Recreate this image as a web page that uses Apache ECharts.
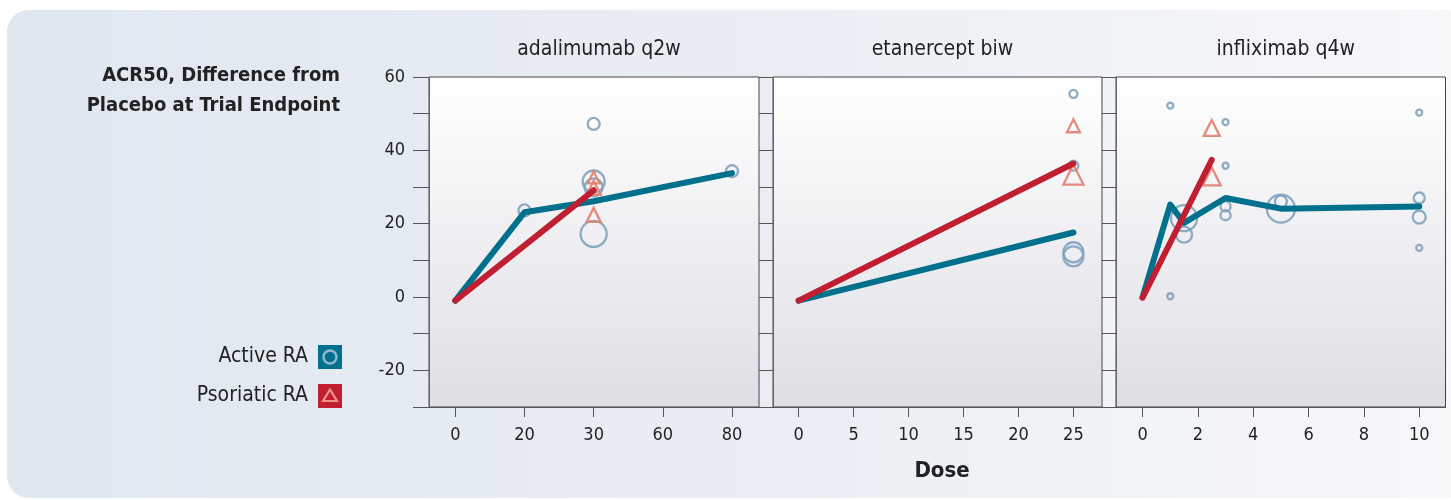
<!DOCTYPE html>
<html><head><meta charset="utf-8">
<script src="https://cdn.jsdelivr.net/npm/echarts@6/dist/echarts.min.js"></script>
<style>html,body{margin:0;padding:0;background:#fff}#c{width:1451px;height:500px}</style>
</head><body><div id="c"></div>
<script>
// ---------- data ----------
const panelTitles = ['adalimumab q2w', 'etanercept biw', 'infliximab q4w'];
const yTickValues = [-30, -20, -10, 0, 10, 20, 30, 40, 50, 60];
const yLabelValues = [-20, 0, 20, 40, 60];

// adalimumab: dose ticks are evenly spaced labels
const adaDoseLabels = ['0', '20', '30', '60', '80'];
const adaActiveLineDose = [0, 20, 30, 80];
const adaActiveLineY = [-1, 23.1, 26.1, 33.8];
const adaPsoLineDose = [0, 30];
const adaPsoLineY = [-1, 29.1];
const adaActivePtDose = [20, 30, 30, 30, 30, 80];
const adaActivePtY = [23.6, 47.2, 31.5, 29.9, 17.2, 34.3];
const adaActivePtSize = [12, 12, 22, 18, 26, 12];
const adaPsoPtDose = [30, 30, 30];
const adaPsoPtY = [32.6, 29.8, 22.4];
const adaPsoPtSize = [12, 14, 14];

// etanercept
const etaDoseTicks = [0, 5, 10, 15, 20, 25];
const etaActiveLineDose = [0, 25];
const etaActiveLineY = [-1, 17.6];
const etaPsoLineDose = [0, 25];
const etaPsoLineY = [-1, 36.4];
const etaActivePtDose = [25, 25, 25, 25];
const etaActivePtY = [55.4, 35.8, 12.2, 11.1];
const etaActivePtSize = [8, 10, 20, 20];
const etaPsoPtDose = [25, 25];
const etaPsoPtY = [46.7, 33.4];
const etaPsoPtSize = [13, 20];

// infliximab
const infDoseTicks = [0, 2, 4, 6, 8, 10];
const infActiveLineDose = [0, 1, 1.5, 3, 5, 10];
const infActiveLineY = [0, 25.2, 20.2, 27, 24.1, 24.7];
const infPsoLineDose = [0, 2.5];
const infPsoLineY = [-0.2, 37.4];
const infActivePtDose = [1, 1, 1.5, 1.5, 3, 3, 3, 3, 5, 5, 10, 10, 10, 10];
const infActivePtY = [52.2, 0.2, 21.5, 17, 47.7, 35.8, 24.7, 22.3, 24.1, 26, 50.3, 27, 21.8, 13.4];
const infActivePtSize = [6, 6, 26, 16, 6, 6, 10, 10, 28, 12, 6, 11, 13, 6];
const infPsoPtDose = [2.5, 2.5];
const infPsoPtY = [46.1, 32.9];
const infPsoPtSize = [16, 18];

// ---------- styling ----------
const TEAL = '#00708c', RED = '#c01f32', CIRC = '#7fa3bd', TRI = '#e0806f';
const FONT = '"Liberation Sans Narrow","DejaVu Sans Condensed","Noto Sans",sans-serif';
const TXT = '#222';

const adaX = d => adaDoseLabels.indexOf(String(d));
const ident = d => d;
function pts(dose, y, size, fx) { return dose.map((d, i) => size ? [fx(d), y[i], size[i]] : [fx(d), y[i]]); }

const grids = [
  {left: 429, top: 77, width: 330, height: 330},
  {left: 773, top: 77, width: 329, height: 330},
  {left: 1116, top: 77, width: 329.5, height: 330}
];
const xRanges = [[-0.38, 4.39], [-2.33, 27.6], [-0.96, 10.95]];
const xTicks = [[0, 1, 2, 3, 4], etaDoseTicks, infDoseTicks];

const panelBg = {type: 'linear', x: 0, y: 0, x2: 0, y2: 1,
  colorStops: [{offset: 0, color: '#ffffff'}, {offset: 1, color: '#dfdee5'}]};

const option = {
  animation: false,
  title: panelTitles.map((t, i) => ({
    text: t, left: grids[i].left + grids[i].width / 2, top: 34, textAlign: 'center',
    textStyle: {fontFamily: FONT, fontSize: 21, fontWeight: 'normal', color: TXT}
  })),
  grid: grids.map(g => Object.assign({show: true, backgroundColor: panelBg, borderColor: '#444', borderWidth: 1,
    containLabel: false, outerBoundsMode: 'none'}, g)),
  xAxis: grids.map((g, i) => ({
    type: 'value', gridIndex: i, min: xRanges[i][0], max: xRanges[i][1],
    axisLine: {show: true, onZero: false, lineStyle: {color: '#555', width: 1}},
    axisTick: {show: true, length: 10, customValues: xTicks[i], lineStyle: {color: '#555'}},
    axisLabel: {customValues: xTicks[i], margin: 19, fontFamily: FONT, fontSize: 18, color: TXT,
      formatter: i === 0 ? (v => adaDoseLabels[Math.round(v)]) : (v => String(v))},
    splitLine: {show: false}
  })),
  yAxis: grids.map((g, i) => ({
    type: 'value', gridIndex: i, min: -30, max: 60, interval: 10,
    axisLine: {show: true, onZero: false, lineStyle: {color: '#666', width: 1}},
    axisTick: {show: true, length: i === 0 ? 16 : 14, customValues: yTickValues, lineStyle: {color: '#555'}},
    axisLabel: {show: i === 0, customValues: yLabelValues, margin: 24, fontFamily: FONT, fontSize: 18, color: TXT},
    splitLine: {show: false}
  })),
  series: [],
  graphic: [
    {type: 'rect', z: -10, silent: true, shape: {x: 7, y: 10, width: 1470, height: 488, r: 22},
      style: {fill: {type: 'linear', x: 0, y: 0, x2: 1, y2: 0,
        colorStops: [{offset: 0, color: '#dfe7f0'}, {offset: 0.5, color: '#eaeef4'}, {offset: 1, color: '#f7f8fa'}]}}},
    {type: 'text', x: 340, y: 76, style: {text: 'ACR50, Difference from', align: 'right', verticalAlign: 'middle',
      font: 'bold 20px ' + FONT, fill: TXT}},
    {type: 'text', x: 340, y: 106, style: {text: 'Placebo at Trial Endpoint', align: 'right', verticalAlign: 'middle',
      font: 'bold 20px ' + FONT, fill: TXT}},
    {type: 'text', x: 942, y: 471, style: {text: 'Dose', align: 'center', verticalAlign: 'middle',
      font: 'bold 22px ' + FONT, fill: TXT}},
    // legend
    {type: 'text', x: 308, y: 357, style: {text: 'Active RA', align: 'right', verticalAlign: 'middle', font: '21px ' + FONT, fill: TXT}},
    {type: 'rect', shape: {x: 318, y: 345, width: 24, height: 24}, style: {fill: TEAL}},
    {type: 'circle', shape: {cx: 330, cy: 357, r: 6.5}, style: {fill: 'none', stroke: '#8fb6cb', lineWidth: 2.5}},
    {type: 'text', x: 308, y: 396, style: {text: 'Psoriatic RA', align: 'right', verticalAlign: 'middle', font: '21px ' + FONT, fill: TXT}},
    {type: 'rect', shape: {x: 318, y: 384, width: 24, height: 24}, style: {fill: RED}},
    {type: 'polygon', shape: {points: [[330, 389.5], [337, 401], [323, 401]]}, style: {fill: 'none', stroke: '#ec9384', lineWidth: 2.2}}
  ]
};

function addPanel(i, aLine, pLine, aPts, pPts) {
  option.series.push(
    {type: 'scatter', xAxisIndex: i, yAxisIndex: i, z: 2, data: aPts, symbol: 'circle',
      symbolSize: v => v[2], itemStyle: {color: 'rgba(0,0,0,0)', borderColor: CIRC, borderWidth: 2.3, opacity: 0.9}},
    {type: 'scatter', xAxisIndex: i, yAxisIndex: i, z: 2, data: pPts, symbol: 'triangle',
      symbolSize: v => v[2], itemStyle: {color: 'rgba(0,0,0,0)', borderColor: TRI, borderWidth: 2.3, opacity: 0.9}},
    {type: 'line', xAxisIndex: i, yAxisIndex: i, z: 3, data: aLine, showSymbol: false, symbol: 'none',
      lineStyle: {color: TEAL, width: 6, cap: 'round', join: 'round'}},
    {type: 'line', xAxisIndex: i, yAxisIndex: i, z: 4, data: pLine, showSymbol: false, symbol: 'none',
      lineStyle: {color: RED, width: 6, cap: 'round', join: 'round'}}
  );
}
addPanel(0, pts(adaActiveLineDose, adaActiveLineY, null, adaX), pts(adaPsoLineDose, adaPsoLineY, null, adaX),
  pts(adaActivePtDose, adaActivePtY, adaActivePtSize, adaX), pts(adaPsoPtDose, adaPsoPtY, adaPsoPtSize, adaX));
addPanel(1, pts(etaActiveLineDose, etaActiveLineY, null, ident), pts(etaPsoLineDose, etaPsoLineY, null, ident),
  pts(etaActivePtDose, etaActivePtY, etaActivePtSize, ident), pts(etaPsoPtDose, etaPsoPtY, etaPsoPtSize, ident));
addPanel(2, pts(infActiveLineDose, infActiveLineY, null, ident), pts(infPsoLineDose, infPsoLineY, null, ident),
  pts(infActivePtDose, infActivePtY, infActivePtSize, ident), pts(infPsoPtDose, infPsoPtY, infPsoPtSize, ident));

const chart = echarts.init(document.getElementById('c'), null, {renderer: 'canvas'});
chart.setOption(option);
</script></body></html>
